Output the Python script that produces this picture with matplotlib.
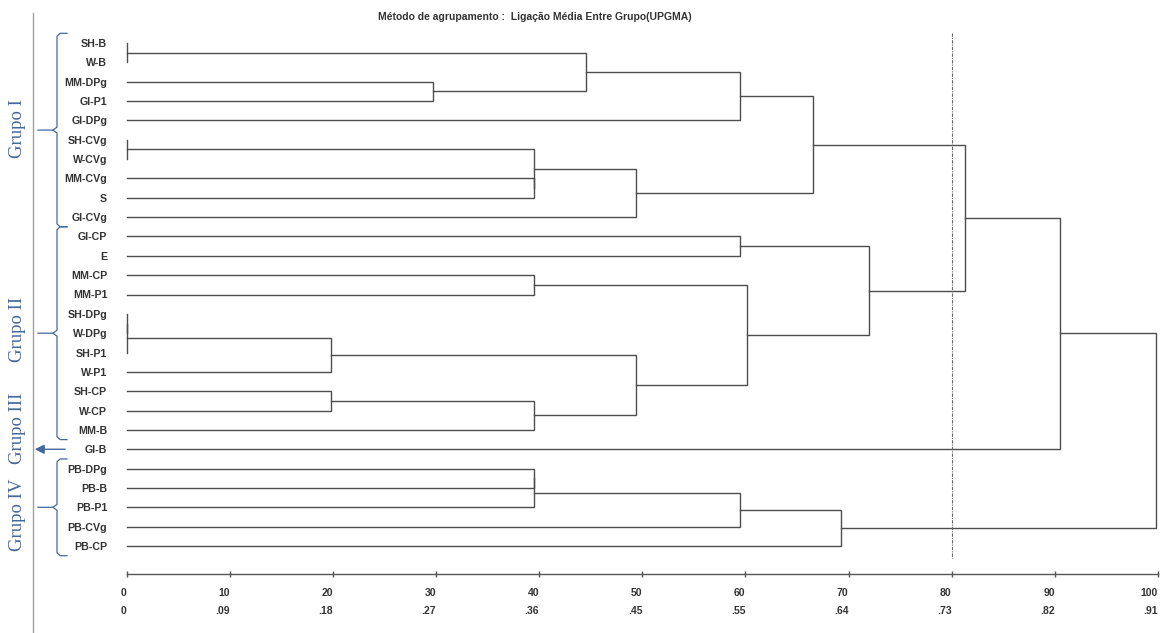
import matplotlib.pyplot as plt
import numpy as np

# leaves, top to bottom
leaves = ["SH-B", "W-B", "MM-DPg", "GI-P1", "GI-DPg", "SH-CVg", "W-CVg", "MM-CVg", "S",
          "GI-CVg", "GI-CP", "E", "MM-CP", "MM-P1", "SH-DPg", "W-DPg", "SH-P1", "W-P1",
          "SH-CP", "W-CP", "MM-B", "GI-B", "PB-DPg", "PB-B", "PB-P1", "PB-CVg", "PB-CP"]

# merges: left / right are leaf names or index of an earlier merge
merge_left = ["SH-B", "MM-DPg", 0, 2, "SH-CVg", "MM-CVg", 4, 6, 3, "GI-CP", "MM-CP",
              "SH-DPg", 11, 12, "SH-CP", 14, 13, 10, 9, 8, 19, "PB-DPg", 21, 22, 23, 20]
merge_right = ["W-B", "GI-P1", 1, "GI-DPg", "W-CVg", "S", 5, "GI-CVg", 7, "E", "MM-P1",
               "W-DPg", "SH-P1", "W-P1", "W-CP", "MM-B", 15, 16, 17, 18, "GI-B", "PB-B",
               "PB-P1", "PB-CVg", "PB-CP", 24]
merge_height = [0, 29.7, 44.5, 59.5, 0, 39.5, 39.5, 49.4, 66.5, 59.5, 39.5,
                0, 0, 19.8, 19.8, 39.5, 49.4, 60.1, 72.0, 81.3, 90.5, 39.5,
                39.5, 59.5, 69.3, 99.8]

cut_level = 80
sim_ticks = [0, 10, 20, 30, 40, 50, 60, 70, 80, 90, 100]
dist_labels = ["0", ".09", ".18", ".27", ".36", ".45", ".55", ".64", ".73", ".82", ".91"]

groups = ["Grupo I", "Grupo II", "Grupo III", "Grupo IV"]
group_start = [0, 10, 21, 22]
group_end = [9, 20, 21, 26]
group_label_y = [4.4, 14.8, 19.9, 24.4]

W, H = 1165, 633
fig = plt.figure(figsize=(W / 100, H / 100), dpi=100)
ax = fig.add_axes([126.7 / W, 1 - 546 / H, (1158 - 126.7) / W, (546 - 43) / H])
ax.set_xlim(0, 100)
ax.set_ylim(len(leaves) - 1, 0)

line_col = "#4d4d4d"
pos = {name: (0.0, i) for i, name in enumerate(leaves)}
nodes = []


def node_of(ref):
    return nodes[ref] if isinstance(ref, int) else pos[ref]


for a, b, h in zip(merge_left, merge_right, merge_height):
    xa, ya = node_of(a)
    xb, yb = node_of(b)
    ax.plot([xa, h, h, xb], [ya, ya, yb, yb], color=line_col, lw=1.0, clip_on=False,
            solid_joinstyle="miter")
    nodes.append((h, (ya + yb) / 2))

# cut line
ax.plot([cut_level, cut_level], [-0.5, 26.6], color="#666666", lw=0.8,
        linestyle=(0, (3, 1, 1, 1)), clip_on=False)

# axes styling
for s in ["top", "right", "left"]:
    ax.spines[s].set_visible(False)
ax.spines["bottom"].set_position(("outward", 20))
ax.spines["bottom"].set_color("#555555")
ax.spines["bottom"].set_linewidth(1.0)
ax.set_xticks(sim_ticks)
ax.set_xticklabels([f"{t}\n{d}" for t, d in zip(sim_ticks, dist_labels)])
ax.tick_params(axis="x", direction="inout", length=4, width=1, color="#555555", pad=8,
               labelsize=7.5, labelcolor="#333333")
for lab in ax.get_xticklabels():
    lab.set_ha("right")
    lab.set_multialignment("right")
    lab.set_linespacing(2.0)
    lab.set_fontweight("bold")
    lab.set_family("Liberation Sans")

ax.set_yticks(range(len(leaves)))
ax.set_yticklabels(leaves)
ax.tick_params(axis="y", length=0, pad=14, labelsize=7.7, labelcolor="#333333")
for lab in ax.get_yticklabels():
    lab.set_fontweight("bold")
    lab.set_family("Liberation Sans")

fig.text(535 / W, 1 - 17 / H, "Método de agrupamento :  Ligação Média Entre Grupo(UPGMA)",
         ha="center", va="center", fontsize=7.5, fontweight="bold",
         family="Liberation Sans", color="#333333")

# group annotations on the left
blue = "#45679c"
px = lambda p: (p - 126.7) / 10.313  # pixel column -> data x
ax.plot([px(33), px(33)], [-1.55, 31], color="#a0a0a0", lw=1.0, clip_on=False)

for name, g0, g1, gy in zip(groups, group_start, group_end, group_label_y):
    ax.text(px(18), gy, name, rotation=90, ha="center", va="center", fontsize=13.5,
            family="Liberation Serif", color=blue, clip_on=False)
    if g0 == g1:
        ax.annotate("", xy=(px(32), g0), xytext=(px(68), g0),
                    arrowprops=dict(arrowstyle="-|>", color=blue, lw=1.0,
                                    mutation_scale=14), annotation_clip=False)
        continue
    top, bot = g0 - 0.5, g1 + 0.5
    mid = (top + bot) / 2
    xv, xh, xt = px(57), px(67), px(38)
    ax.plot([xh, xv + 0.3, xv, xv, xv - 0.4, xt], [top, top, top + 0.15, mid - 0.15, mid, mid],
            color=blue, lw=0.9, clip_on=False)
    ax.plot([xv - 0.4, xv, xv, xv + 0.3, xh], [mid, mid + 0.15, bot - 0.15, bot, bot],
            color=blue, lw=0.9, clip_on=False)

fig.savefig("out.png", dpi=100)
